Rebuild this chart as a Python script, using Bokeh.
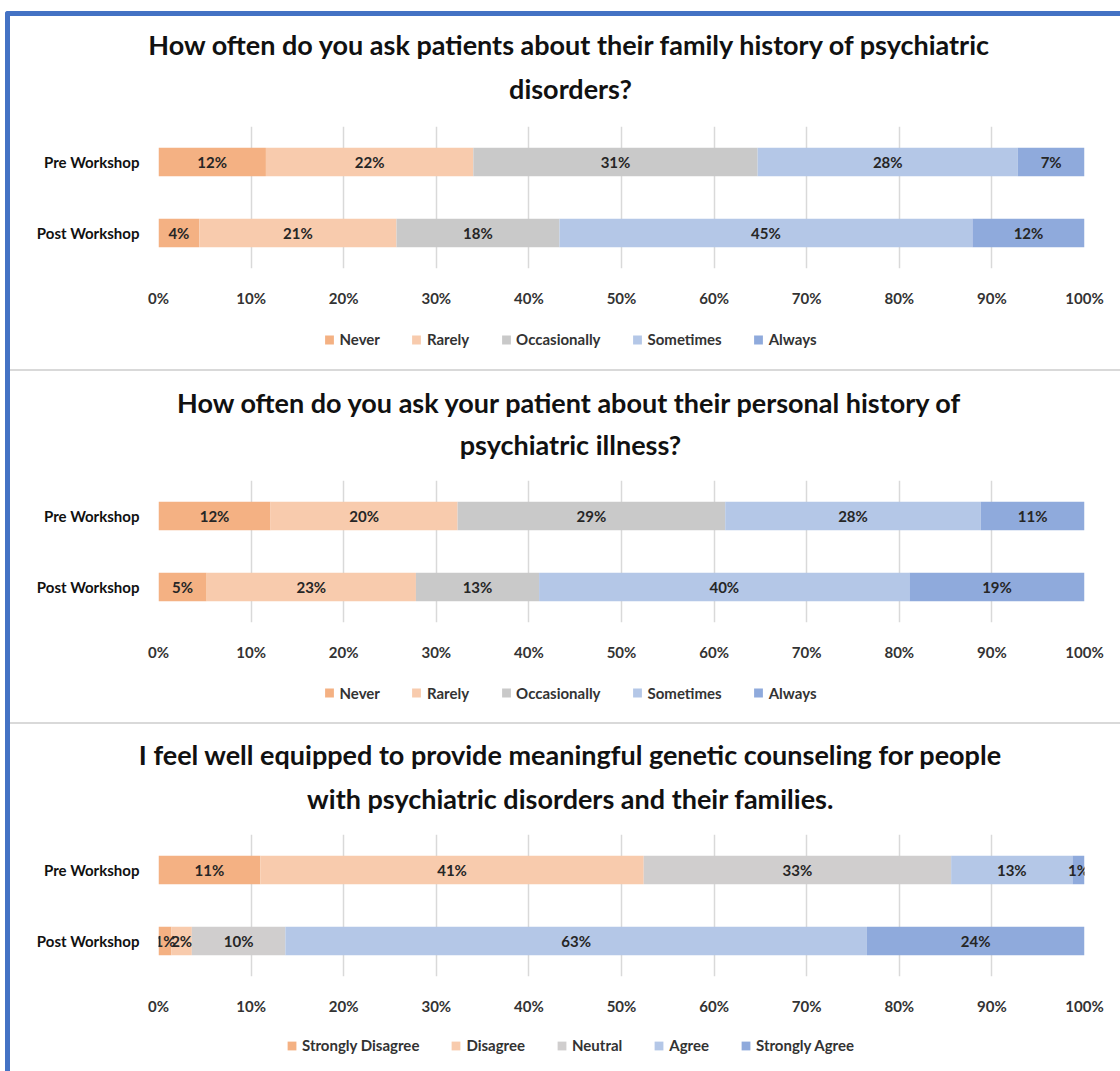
from bokeh.plotting import figure
from bokeh.layouts import column
from bokeh.models import ColumnDataSource, Legend, LegendItem, Title, Div, FixedTicker, Range1d, FactorRange
from bokeh.embed import file_html
from bokeh.resources import INLINE
from bokeh.core.properties import value

# ---------------- data ----------------
groups = ["Pre Workshop", "Post Workshop"]
x_ticks = [0, 10, 20, 30, 40, 50, 60, 70, 80, 90, 100]
x_tick_labels = ["0%", "10%", "20%", "30%", "40%", "50%", "60%", "70%", "80%", "90%", "100%"]

q1_title = ["How often do you ask patients about their family history of psychiatric",
            "disorders?"]
q1_levels = ["Never", "Rarely", "Occasionally", "Sometimes", "Always"]
q1_pre = [11.6, 22.4, 30.7, 28.1, 7.2]
q1_post = [4.4, 21.3, 17.6, 44.6, 12.1]

q2_title = ["How often do you ask your patient about their personal history of",
            "psychiatric illness?"]
q2_levels = ["Never", "Rarely", "Occasionally", "Sometimes", "Always"]
q2_pre = [12.1, 20.2, 28.9, 27.6, 11.2]
q2_post = [5.2, 22.6, 13.3, 40.0, 18.9]

q3_title = ["I feel well equipped to provide meaningful genetic counseling for people",
            "with psychiatric disorders and their families."]
q3_levels = ["Strongly Disagree", "Disagree", "Neutral", "Agree", "Strongly Agree"]
q3_pre = [11.0, 41.4, 33.2, 13.1, 1.3]
q3_post = [1.4, 2.2, 10.1, 62.8, 23.5]

freq_colors = ["#F4B183", "#F8CBAD", "#C9C9C9", "#B4C7E7", "#8FAADC"]
agree_colors = ["#F4B183", "#F8CBAD", "#D0CECE", "#B4C7E7", "#8FAADC"]

FONT = "Lato"
W = 1110


def strip(height, **kw):
    f = figure(width=W, height=height, output_backend="svg", toolbar_location=None,
               x_axis_location=None, y_axis_location=None,
               min_border_left=10, min_border_right=0, min_border_bottom=0,
               outline_line_color=None, background_fill_color="white",
               border_fill_color="white", margin=0, frame_align=False, **kw)
    f.grid.visible = False
    return f


def make_panel(title_lines, levels, pre, post, colors, title_h, title_frame_top,
               standoffs, legend_h):
    # ---- title strip ----
    ts = strip(title_h, x_range=Range1d(0, 1), y_range=Range1d(0, 1),
               min_border_top=title_frame_top)
    ts.title = None
    for line, so in reversed(list(zip(title_lines, standoffs))):
        ts.add_layout(Title(text=line, align="center", text_font=FONT, text_font_size="27px",
                            text_font_style="bold", text_color="#111111", standoff=so), "above")

    # ---- chart ----
    p = figure(
        y_range=FactorRange(factors=list(reversed(groups))),
        x_range=Range1d(0, 100),
        width=W, height=147 + 36,
        min_border_left=148, min_border_right=36,
        min_border_top=0, min_border_bottom=36,
        output_backend="svg", toolbar_location=None,
        outline_line_color=None, background_fill_color="white",
        border_fill_color="white", margin=0, frame_align=False,
    )
    p.title = None

    # ---- legend strip ----
    lf = strip(legend_h, x_range=Range1d(0, 100), y_range=FactorRange(factors=list(groups)),
               min_border_top=0)

    items = []
    lefts_pre = 0.0
    lefts_post = 0.0
    lab_x, lab_y, lab_t = [], [], []
    for i, lev in enumerate(levels):
        left = [lefts_pre, lefts_post]
        right = [lefts_pre + pre[i], lefts_post + post[i]]
        src = ColumnDataSource(dict(y=groups, left=left, right=right))
        p.hbar(y="y", left="left", right="right", height=0.4, source=src,
               fill_color=colors[i], line_color=None)
        lr = lf.hbar(y="y", left="left", right="right", height=0.4, source=src,
                     fill_color=colors[i], line_color=None, visible=False)
        items.append(LegendItem(label=lev, renderers=[lr]))
        for g, l, rr, v in zip(groups, left, right, [pre[i], post[i]]):
            lab_x.append((l + rr) / 2)
            lab_y.append(g)
            lab_t.append(f"{v:.0f}%")
        lefts_pre += pre[i]
        lefts_post += post[i]

    lsrc = ColumnDataSource(dict(x=lab_x, y=lab_y, t=lab_t))
    p.text(x="x", y="y", text="t", source=lsrc, text_align="center",
           text_baseline="middle", text_font=value(FONT), text_font_style="bold",
           text_font_size="15px", text_color="#262626")

    p.xgrid.ticker = FixedTicker(ticks=x_ticks)
    p.xgrid.grid_line_color = "#D9D9D9"
    p.xgrid.grid_line_width = 1.5
    p.ygrid.grid_line_color = None

    p.xaxis.ticker = FixedTicker(ticks=x_ticks)
    p.xaxis.major_label_overrides = {t_: l_ for t_, l_ in zip(x_ticks, x_tick_labels)}
    p.xaxis.axis_line_color = None
    p.xaxis.major_tick_line_color = None
    p.xaxis.minor_tick_line_color = None
    p.xaxis.major_label_text_font = FONT
    p.xaxis.major_label_text_font_style = "bold"
    p.xaxis.major_label_text_font_size = "15px"
    p.xaxis.major_label_text_color = "#333333"
    p.xaxis.major_label_standoff = 14

    p.yaxis.axis_line_color = None
    p.yaxis.major_tick_line_color = None
    p.yaxis.minor_tick_line_color = None
    p.yaxis.major_label_text_font = FONT
    p.yaxis.major_label_text_font_style = "bold"
    p.yaxis.major_label_text_font_size = "15px"
    p.yaxis.major_label_text_color = "#111111"
    p.yaxis.major_label_standoff = 13

    leg = Legend(items=items, orientation="horizontal", location="center",
                 glyph_width=11, glyph_height=11, label_standoff=5, spacing=31,
                 label_text_font=FONT, label_text_font_style="bold",
                 label_text_font_size="15px", label_text_color="#333333",
                 border_line_color=None, background_fill_alpha=0,
                 inactive_fill_alpha=0, margin=0, padding=0)
    lf.add_layout(leg, "center")
    return [ts, p, lf]


panel1 = make_panel(q1_title, q1_levels, q1_pre, q1_post, freq_colors, 110, 100, [-4, 23], 60)
panel2 = make_panel(q2_title, q2_levels, q2_pre, q2_post, freq_colors, 109, 99, [-4, 19], 59)
panel3 = make_panel(q3_title, q3_levels, q3_pre, q3_post, agree_colors, 110, 100, [-1, 19], 56)

d1 = Div(text="", width=W, height=2, margin=0, styles={"background-color": "#D9D9D9"})
d2 = Div(text="", width=W, height=2, margin=0, styles={"background-color": "#D9D9D9"})

layout = column(*panel1, d1, *panel2, d2, *panel3, spacing=0, margin=(11, 0, 0, 5),
                styles={"border-top": "5px solid #4472C4", "border-left": "5px solid #4472C4",
                        "border-top-left-radius": "3px", "background-color": "white"})

open("out.html", "w").write(file_html(layout, INLINE))
